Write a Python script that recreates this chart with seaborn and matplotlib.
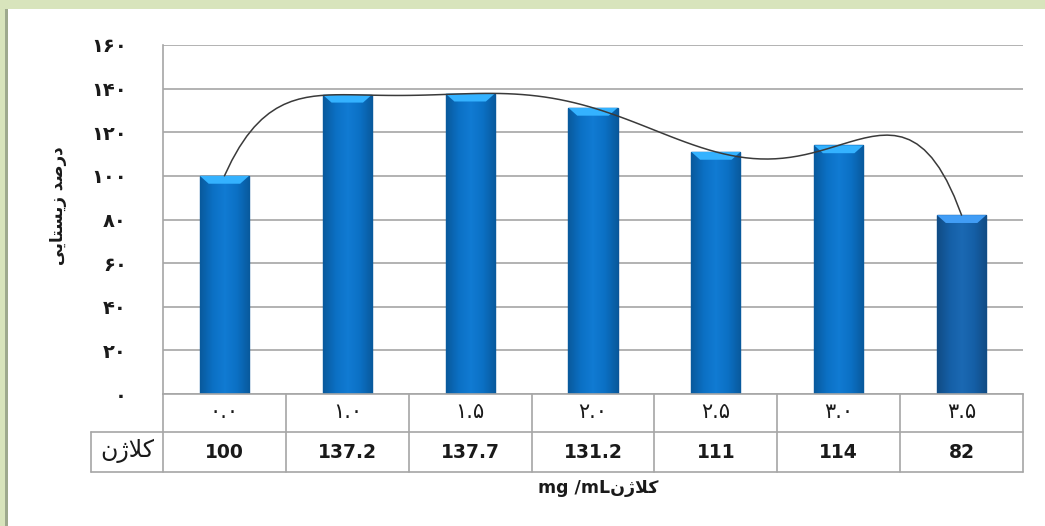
import numpy as np
import pandas as pd
import matplotlib
matplotlib.use("Agg")
import matplotlib.pyplot as plt
import seaborn as sns
from matplotlib.patches import Rectangle
from matplotlib.lines import Line2D
from matplotlib.colors import LinearSegmentedColormap

# ---------------- data ----------------
categories = ["۰.۰", "۱.۰", "۱.۵", "۲.۰", "۲.۵", "۳.۰", "۳.۵"]
viability = [100, 137.2, 137.7, 131.2, 111, 114, 82]
value_labels = ["100", "137.2", "137.7", "131.2", "111", "114", "82"]
y_ticks = [0, 20, 40, 60, 80, 100, 120, 140, 160]
y_tick_labels = ["۰", "۲۰", "۴۰", "۶۰", "۸۰", "۱۰۰", "۱۲۰", "۱۴۰", "۱۶۰"]
series_name = "کلاژن"
y_title = "درصد زیستایی"
x_unit = "mg /mL"
x_title_word = "کلاژن"

# ------------- minimal Arabic-script shaping (matplotlib has no RTL layout) -------------
FORMS = {
    "ا": ("\uFE8D", "\uFE8E"),
    "د": ("\uFEA9", "\uFEAA"),
    "ر": ("\uFEAD", "\uFEAE"),
    "ز": ("\uFEAF", "\uFEB0"),
    "ژ": ("\uFB8A", "\uFB8B"),
    "ت": ("\uFE95", "\uFE96", "\uFE97", "\uFE98"),
    "س": ("\uFEB1", "\uFEB2", "\uFEB3", "\uFEB4"),
    "ص": ("\uFEB9", "\uFEBA", "\uFEBB", "\uFEBC"),
    "ل": ("\uFEDD", "\uFEDE", "\uFEDF", "\uFEE0"),
    "ن": ("\uFEE5", "\uFEE6", "\uFEE7", "\uFEE8"),
    "ی": ("\uFBFC", "\uFBFD", "\uFBFE", "\uFBFF"),
    "ک": ("\uFB8E", "\uFB8F", "\uFB90", "\uFB91"),
}


def _dual(c):
    return c in FORMS and len(FORMS[c]) == 4


def shape(text):
    chars = list(text)
    n = len(chars)
    out = []
    i = 0
    while i < n:
        c = chars[i]
        if c not in FORMS:
            out.append(c)
            i += 1
            continue
        prev = chars[i - 1] if i > 0 else None
        link_prev = prev is not None and _dual(prev)
        if c == "ل" and i + 1 < n and chars[i + 1] == "ا":
            out.append("\uFEFC" if link_prev else "\uFEFB")
            i += 2
            continue
        nxt = chars[i + 1] if i + 1 < n else None
        link_next = _dual(c) and nxt is not None and nxt in FORMS
        f = FORMS[c]
        if link_prev and link_next:
            g = f[3]
        elif link_prev:
            g = f[1]
        elif link_next:
            g = f[2]
        else:
            g = f[0]
        out.append(g)
        i += 1
    return "".join(reversed(out))


# ---------------- style ----------------
sns.set_style("white")
plt.rcParams["font.family"] = ["DejaVu Sans"]

GRID = "#a6a6a6"
TXT = "#1a1a1a"
bar_colors = ["#0b70c4"] * 6 + ["#155fa6"]

df = pd.DataFrame({"conc": categories, "viability": viability})
xpos = np.arange(len(categories))

fig = plt.figure(figsize=(10.45, 5.26), dpi=100)
ax = fig.add_axes([163 / 1045, 1 - 394 / 526, 860 / 1045, 349 / 526])

sns.barplot(data=df, x="conc", y="viability", hue="conc", palette=bar_colors,
            width=0.4, legend=False, ax=ax, saturation=1,
            edgecolor="#0a5499", linewidth=1.0, zorder=2)

# bar shading (soft horizontal gradient clipped to each bar) + top bevel
for p, col in zip(ax.patches, bar_colors):
    x0, y0 = p.get_x(), p.get_y()
    w, h = p.get_width(), p.get_height()
    base = matplotlib.colors.to_rgb(col)
    dark = tuple(c * 0.80 for c in base)
    light = tuple(min(1, c * 1.05 + 0.02) for c in base)
    cmap = LinearSegmentedColormap.from_list("b", [dark, base, light, base, dark])
    grad = np.linspace(0, 1, 64).reshape(1, -1)
    im = ax.imshow(grad, extent=[x0, x0 + w, y0, y0 + h], aspect="auto",
                   cmap=cmap, zorder=2.1, interpolation="bicubic")
    im.set_clip_path(p)
    ax.fill([x0, x0 + w, x0 + w * 0.82, x0 + w * 0.18],
            [y0 + h, y0 + h, y0 + h - 3.6, y0 + h - 3.6],
            color=tuple(min(1, c * 1.25 + 0.15) for c in base), zorder=2.2, lw=0)

# polynomial trendline (order 6) through the bar values
sns.regplot(x=xpos, y=np.array(viability, dtype=float), order=6, ci=None,
            scatter=False, truncate=True, ax=ax,
            line_kws=dict(color="#3a3a3a", lw=1.1, zorder=3))

ax.set_xlim(-0.5, len(categories) - 0.5)
ax.set_ylim(0, 160)
ax.set_yticks(y_ticks)
ax.set_yticklabels(y_tick_labels, fontsize=14, fontweight="bold", color=TXT)
ax.set_xticks(xpos)
ax.set_xticklabels(categories, fontsize=15, color=TXT)
ax.tick_params(axis="x", length=0, pad=6)
ax.tick_params(axis="y", length=8, width=1.2, color=GRID, pad=18, direction="out")
ax.yaxis.grid(True, color=GRID, lw=1.2, zorder=0)
ax.xaxis.grid(False)
ax.set_axisbelow(True)
ax.set_xlabel("")
ax.set_ylabel("")
for s in ["top", "right"]:
    ax.spines[s].set_visible(False)
for s in ["left", "bottom"]:
    ax.spines[s].set_color(GRID)
    ax.spines[s].set_linewidth(1.2)

# ---------------- data table ----------------
r1 = -38 / 349
r2 = -78 / 349
hx = (91 - 163) / 860
tkw = dict(transform=ax.transAxes, color=GRID, lw=1.2, clip_on=False, zorder=1)
ax.add_line(Line2D([hx, 1], [r1, r1], **tkw))
ax.add_line(Line2D([hx, 1], [r2, r2], **tkw))
ax.add_line(Line2D([hx, hx], [r1, r2], **tkw))
for k in range(len(categories) + 1):
    ax.add_line(Line2D([k / len(categories)] * 2, [0, r2], **tkw))
for k, v in enumerate(value_labels):
    ax.text((k + 0.5) / len(categories), (r1 + r2) / 2, v, transform=ax.transAxes,
            ha="center", va="center", fontsize=13.5, fontweight="bold", color=TXT)
ax.text((hx + 0) / 2, (r1 + r2) / 2 + 0.004, shape(series_name), transform=ax.transAxes,
        ha="center", va="center", fontsize=17, color=TXT)

# axis titles
fig.text(58 / 1045, 1 - 206 / 526, shape(y_title), rotation=90, ha="center",
         va="center", fontsize=12, fontweight="bold", color=TXT)
fig.text(598 / 1045, 1 - 488 / 526, x_unit + shape(x_title_word), ha="center",
         va="center", fontsize=12.5, fontweight="bold", color=TXT)

# ---------------- green frame ----------------
fig.patches.append(Rectangle((0, 1 - 9 / 526), 1, 9 / 526, transform=fig.transFigure,
                             facecolor="#d8e4bc", edgecolor="none", zorder=-1))
fig.patches.append(Rectangle((0, 0), 5 / 1045, 1, transform=fig.transFigure,
                             facecolor="#d8e4bc", edgecolor="none", zorder=-1))
fig.patches.append(Rectangle((5 / 1045, 0), 3 / 1045, 1 - 9 / 526, transform=fig.transFigure,
                             facecolor="#9ea98e", edgecolor="none", zorder=-1))

fig.savefig("out.png", dpi=100)
